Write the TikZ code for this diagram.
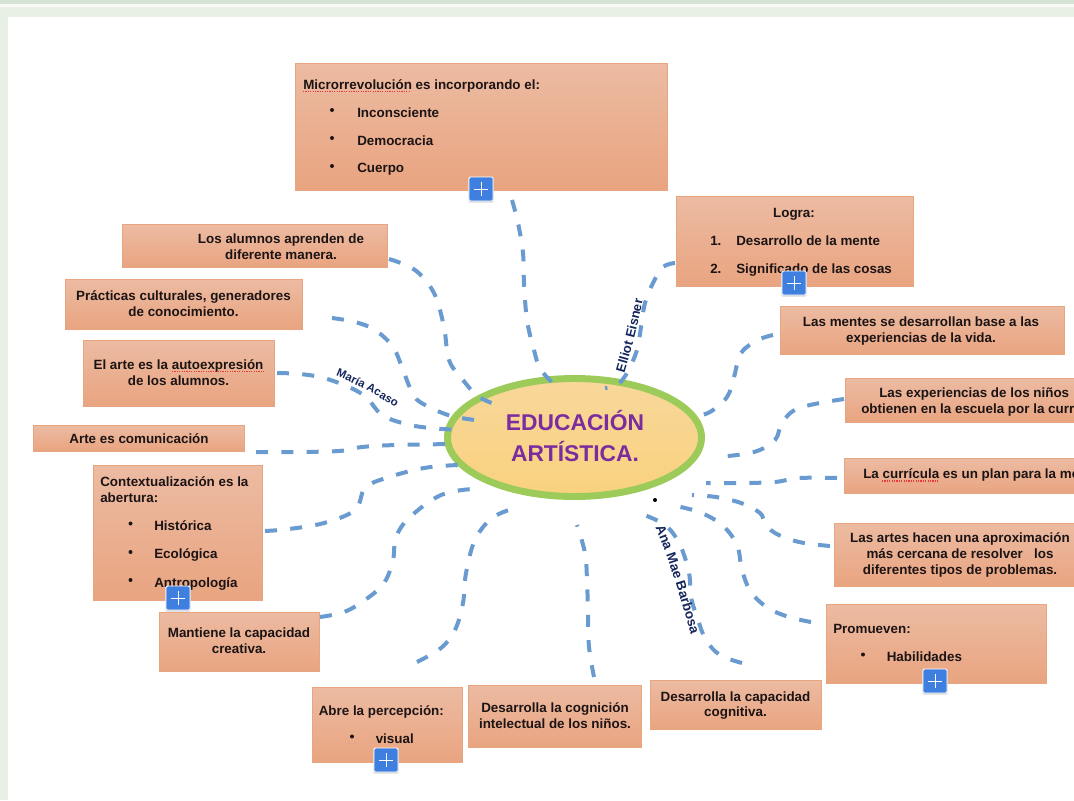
\documentclass[tikz,border=0pt]{standalone}
\usepackage{fontspec}
\setmainfont{Liberation Sans}
\usetikzlibrary{decorations.text,shapes.geometric}
\definecolor{boxtop}{HTML}{ECBBA2}
\definecolor{boxbot}{HTML}{E9A480}
\definecolor{boxline}{HTML}{E8A680}
\definecolor{conn}{HTML}{6A9BD0}
\definecolor{navy}{HTML}{14265C}
\definecolor{ink}{HTML}{1C1414}
\definecolor{titlec}{HTML}{7B2C9E}
\definecolor{ring}{HTML}{9CCB5A}
\definecolor{btnblue}{HTML}{3F7FE0}
\definecolor{pale}{HTML}{E8F0E5}
\definecolor{band}{HTML}{D5E3D3}
\definecolor{eltop}{HTML}{F8D79A}
\definecolor{elbot}{HTML}{F9D27E}
\definecolor{squigc}{HTML}{E8393A}
\newcommand\bodyf{\fontsize{10.05pt}{12pt}\selectfont\bfseries}
\newcommand\curvea{\fontsize{8.6pt}{10pt}\selectfont\bfseries\color{navy}}
\newcommand\curveb{\fontsize{9.8pt}{11pt}\selectfont\bfseries\color{navy}}
\newcommand\curvec{\fontsize{10.1pt}{12pt}\selectfont\bfseries\color{navy}}
\tikzset{
  box/.style={anchor=north west,draw=boxline,line width=.5pt,top color=boxtop,bottom color=boxbot,inner sep=0pt},
  txt/.style={anchor=base,inner sep=0pt,font=\bodyf,text=ink},
  txtl/.style={anchor=base west,inner sep=0pt,font=\bodyf,text=ink},
  bul/.style={circle,fill=ink,inner sep=0pt,minimum size=3pt},
  connector/.style={draw=conn,line width=3pt,dash pattern=on 9pt off 10pt},
  squig/.style={draw=squigc,line width=1.1pt,dash pattern=on .9pt off .9pt},
  btn/.style={draw=white,line width=.7pt,fill=btnblue,minimum size=18pt,inner sep=0pt,rounded corners=1pt},
  btnshadow/.style={fill=black!15,minimum size=19pt,inner sep=0pt,rounded corners=1pt},
  hub/.style={ellipse,draw=ring,line width=5.2pt,top color=eltop,bottom color=elbot,minimum width=190.5pt,minimum height=88.5pt,inner sep=0pt},
  hubt/.style={anchor=base,inner sep=0pt,font=\fontsize{17.1pt}{19pt}\selectfont\bfseries,text=titlec},
  curved/.style 2 args={decorate,decoration={text along path,text align=center,text={|#1|#2}}}
}
\newcommand\boxnode[5]{%
  \pgfmathsetmacro\bxw{(#4-#2)*.75}\pgfmathsetmacro\bxh{(#5-#3)*.75}%
  \node[box,minimum width=\bxw pt,minimum height=\bxh pt] (#1) at (#2,#3) {};}
\newcommand\plusbtn[3]{%
  \node[btnshadow] (#1s) at (#2,#3+1) {};
  \node[btn] (#1) at (#2,#3) {};
  \draw[white,line width=.6pt] ([xshift=-5.2pt]#1.center) -- ([xshift=5.2pt]#1.center)
     ([yshift=-5.2pt]#1.center) -- ([yshift=5.2pt]#1.center);}
\begin{document}
\begin{tikzpicture}[x=.75pt,y=-.75pt]
\useasboundingbox (0,0) rectangle (1074,800);
\clip (0,0) rectangle (1074,800);
% page background
\fill[pale] (0,0) rectangle (1074,800);
\fill[band] (0,0) rectangle (1074,4);
\fill[white!70!pale] (0,4) rectangle (1074,7);
\fill[white] (8,17) rectangle (1074,800);

% boxes
\boxnode{micro}{295}{63}{667}{190}
\boxnode{alumnos}{122}{224}{387}{267}
\boxnode{practicas}{65}{279}{302}{329}
\boxnode{autoexp}{83}{340}{274}{406}
\boxnode{comun}{33}{425}{244}{451}
\boxnode{context}{93}{465}{262}{600}
\boxnode{mantiene}{159}{612}{319}{671}
\boxnode{abre}{312}{687}{462}{762}
\boxnode{cognicion}{468}{685}{641}{747}
\boxnode{capacidad}{650}{680}{821}{729}
\boxnode{promueven}{826}{604}{1046}{683}
\boxnode{artes}{834}{523}{1095}{586}
\boxnode{curricula}{844}{458}{1095}{493}
\boxnode{experiencias}{845}{378}{1095}{422}
\boxnode{mentes}{780}{306}{1064}{354}
\boxnode{logra}{676}{196}{913}{286}

% central ellipse
\node[hub] (hub) at (574.5,437.5) {};
\node[hubt] (hub1) at (575,430) {EDUCACIÓN};
\node[hubt] (hub2) at (575,461) {ARTÍSTICA.};

% connector ends
\coordinate (c1a) at (512,200);   \coordinate (c1b) at (560,390);
\coordinate (c2a) at (389,259);   \coordinate (c2b) at (503,407);
\coordinate (c3a) at (332,318);   \coordinate (c3b) at (475,420);
\coordinate (c4a) at (277,373);   \coordinate (c4b) at (461,430);
\coordinate (c5a) at (256,452);   \coordinate (c5b) at (456,444);
\coordinate (c6a) at (265,531);   \coordinate (c6b) at (458,465);
\coordinate (c7a) at (320,617);   \coordinate (c7b) at (472,489);
\coordinate (c8a) at (417,662);   \coordinate (c8b) at (515,508);
\coordinate (c9a) at (594,677);   \coordinate (c9b) at (577,525);
\coordinate (c10a) at (742,663);  \coordinate (c10b) at (639,513);
\coordinate (c11a) at (811,622);  \coordinate (c11b) at (671,505);
\coordinate (c12a) at (830,546);  \coordinate (c12b) at (692,495);
\coordinate (c13a) at (837,478);  \coordinate (c13b) at (706,483);
\coordinate (c14a) at (844,399);  \coordinate (c14b) at (718,457);
\coordinate (c15a) at (773,335);  \coordinate (c15b) at (696,416);
\coordinate (c16a) at (675,263);  \coordinate (c16b) at (605,388);

% connectors
\tikzset{sm/.style={smooth,tension=.6}}
\draw[connector] plot[sm] coordinates {(c1a) (518,223) (523,253) (524,283) (527,320) (534,350) (541,370) (c1b)};
\draw[connector] plot[sm] coordinates {(c2a) (415,270) (434,293) (444,327) (449,360) (463,380) (479,397) (c2b)};
\draw[connector] plot[sm] coordinates {(c3a) (355,322) (375,330) (393,347) (403,370) (411,390) (420,402) (448,415) (c3b)};
\draw[connector] plot[sm] coordinates {(c4a) (300,374) (324,378) (351,388) (367,398) (382,415) (406,424) (430,428) (c4b)};
\draw[connector] plot[sm] coordinates {(c5a) (293,452) (339,451) (362,447) (396,445) (c5b)};
\draw[connector] plot[sm] coordinates {(c6a) (289,529) (324,523) (355,510) (365,488) (386,478) (424,468) (c6b)};
\draw[connector] plot[sm] coordinates {(c7a) (344,612) (365,600) (384,583) (393,560) (396,537) (410,517) (441,495) (c7b)};
\draw[connector] plot[sm] coordinates {(c8a) (441,648) (455,630) (463,603) (466,573) (475,540) (492,518) (c8b)};
\draw[connector] plot[sm] coordinates {(c9a) (589,647) (588,613) (587,580) (585,553) (c9b)};
\draw[connector] plot[sm] coordinates {(c10a) (720,655) (706,640) (698,620) (691,597) (689,573) (680,545) (665,525) (c10b)};
\draw[connector] plot[sm] coordinates {(c11a) (789,617) (768,608) (751,592) (742,570) (737,545) (722,525) (699,512) (c11b)};
\draw[connector] plot[sm] coordinates {(c12a) (799,542) (775,533) (765,523) (760,513) (741,503) (716,497) (c12b)};
\draw[connector] plot[sm] coordinates {(c13a) (799,478) (775,482) (741,483) (c13b)};
\draw[connector] plot[sm] coordinates {(c14a) (799,408) (782,423) (775,440) (754,452) (c14b)};
\draw[connector] plot[sm] coordinates {(c15a) (758,340) (741,353) (734,377) (727,397) (710,412) (c15b)};
\draw[connector] plot[sm] coordinates {(c16a) (663,267) (653,283) (645,303) (641,327) (637,350) (627,373) (617,385) (c16b)};

% connector labels
\path[curved={\curvea}{María Acaso}] (333,375) .. controls (355,383) and (378,396) .. (398,409);
\path[curved={\curveb}{Elliot Eisner}] (623,378) .. controls (631,352) and (638,325) .. (644,295);
\path[curved={\curvec}{Ana Mae Barbosa}] (654,524) .. controls (668,556) and (680,596) .. (692,638);
\node[circle,fill=black,inner sep=0pt,minimum size=3pt] (stray) at (655,500) {};

% texts
\node[txtl] (t1a) at (303,89) {Microrrevolución es incorporando el:};
\draw[squig] (303,91.5) -- (411,91.5);
\node[bul] (t1b) at (332,110) {}; \node[txtl] (t1c) at (357,117) {Inconsciente};
\node[bul] (t1d) at (332,138) {}; \node[txtl] (t1e) at (357,145) {Democracia};
\node[bul] (t1f) at (332,166) {}; \node[txtl] (t1g) at (357,172.5) {Cuerpo};

\node[txt] (t2a) at (281,243) {Los alumnos aprenden de};
\node[txt] (t2b) at (281,259) {diferente manera.};
\node[txt] (t3a) at (183.5,300) {Prácticas culturales, generadores};
\node[txt] (t3b) at (183.5,316) {de conocimiento.};
\node[txt] (t4a) at (178.5,369) {El arte es la autoexpresión};
\draw[squig] (172,371.5) -- (265,371.5);
\node[txt] (t4b) at (178.5,385) {de los alumnos.};
\begin{scope}
  \clip (33,425) rectangle (244,450);
  \node[txt] (t5a) at (139,443.5) {Arte es comunicación};
\end{scope}

\node[txtl] (t6a) at (100,486) {Contextualización es la};
\node[txtl] (t6b) at (100,502) {abertura:};
\node[bul] (t6c) at (130.5,523.5) {}; \node[txtl] (t6d) at (154,530) {Histórica};
\node[bul] (t6e) at (130.5,552) {}; \node[txtl] (t6f) at (154,558.5) {Ecológica};
\node[bul] (t6g) at (130.5,580) {}; \node[txtl] (t6h) at (154,587) {Antropología};

\node[txt] (t7a) at (239,637) {Mantiene la capacidad};
\node[txt] (t7b) at (239,653.5) {creativa.};

\node[txtl] (t8a) at (318.5,715) {Abre la percepción:};
\node[bul] (t8b) at (352,736.5) {}; \node[txtl] (t8c) at (375.5,743) {visual};

\node[txt] (t9a) at (555,712) {Desarrolla la cognición};
\node[txt] (t9b) at (555,728) {intelectual de los niños.};
\node[txt] (t10a) at (735.5,701) {Desarrolla la capacidad};
\node[txt] (t10b) at (735.5,716) {cognitiva.};

\node[txtl] (t11a) at (833,633) {Promueven:};
\node[bul] (t11b) at (863,654.5) {}; \node[txtl] (t11c) at (886.5,661) {Habilidades};

\node[txt] (t12a) at (960,542) {Las artes hacen una aproximación};
\node[txt] (t12b) at (960,558) {más cercana de resolver \ \ los};
\node[txt] (t12c) at (960,574) {diferentes tipos de problemas.};

\node[txtl] (t13a) at (863,478) {La currícula es un plan para la me};
\draw[squig] (882,481) -- (939,481);

\node[txtl] (t14a) at (879,397) {Las experiencias de los niños};
\begin{scope}
  \clip (845,378) rectangle (1074,421);
  \node[txtl] (t14b) at (861,413.5) {obtienen en la escuela por la curr};
\end{scope}

\node[txt] (t15a) at (921,326) {Las mentes se desarrollan base a las};
\node[txt] (t15b) at (921,342) {experiencias de la vida.};

\node[txt] (t16a) at (794,217) {Logra:};
\node[txtl] (t16b) at (710,245) {1.}; \node[txtl] (t16c) at (736,245) {Desarrollo de la mente};
\node[txtl] (t16d) at (710,273) {2.}; \node[txtl] (t16e) at (736,273) {Significado de las cosas};

% expand buttons
\plusbtn{p1}{481}{189}
\plusbtn{p2}{794}{283}
\plusbtn{p3}{178}{598}
\plusbtn{p4}{386}{760}
\plusbtn{p5}{935}{681}
\end{tikzpicture}
\end{document}
